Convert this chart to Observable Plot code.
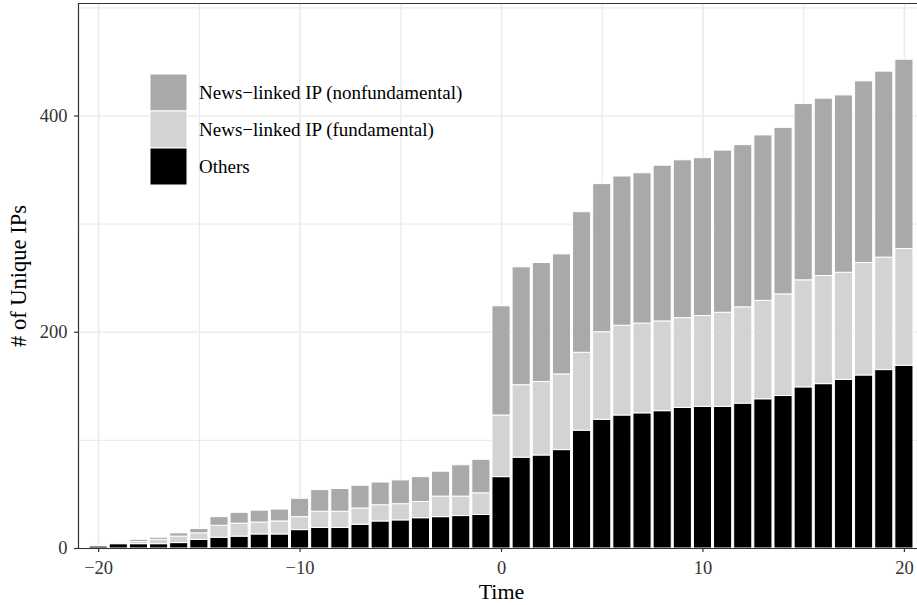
<!DOCTYPE html>
<html><head><meta charset="utf-8">
<script src="https://cdn.jsdelivr.net/npm/d3@7"></script>
<script src="https://cdn.jsdelivr.net/npm/@observablehq/plot@0.6"></script>
<style>body{margin:0;background:#fff} #chart{width:917px;height:605px}</style>
</head><body><div id="chart"></div>
<script>
const times = [-20,-19,-18,-17,-16,-15,-14,-13,-12,-11,-10,-9,-8,-7,-6,-5,-4,-3,-2,-1,0,1,2,3,4,5,6,7,8,9,10,11,12,13,14,15,16,17,18,19,20];
const others = [2,4,4,4,5,8,10,11,13,13,17,19,19,22,25,26,28,29,30,31,66,84,86,91,109,119,123,125,127,130,131,131,134,138,141,149,152,156,160,165,169];
const fundamental = [1,1,2,4,6,6,11,12,11,12,12,15,15,15,15,15,15,19,18,20,57,67,68,70,72,81,83,83,83,83,84,87,89,91,94,99,100,99,104,104,108];
const nonfundamental = [1,1,2,2,3,4,8,10,11,11,17,20,21,21,21,22,23,23,29,31,101,109,110,111,130,137,138,139,144,146,146,150,150,153,154,163,164,164,168,172,175];
const seriesNames = ["Others", "News\u2212linked IP (fundamental)", "News\u2212linked IP (nonfundamental)"];
const seriesColors = ["#000000", "#D3D3D3", "#A9A9A9"];
const legendOrder = ["News\u2212linked IP (nonfundamental)", "News\u2212linked IP (fundamental)", "Others"];
const xTicks = [-20, -10, 0, 10, 20];
const xMinor = [-15, -5, 5, 15];
const yTicks = [0, 200, 400];
const yMinor = [100, 300, 500];

const rows = [];
times.forEach((t, i) => {
  const vals = [others[i], fundamental[i], nonfundamental[i]];
  let acc = 0;
  vals.forEach((v, k) => { rows.push({t, series: seriesNames[k], y1: acc, y2: acc + v}); acc += v; });
});

const font = "'Liberation Serif', 'Times New Roman', serif";
const grid = "#EBEBEB";
const chart = Plot.plot({
  width: 917, height: 605,
  marginLeft: 78, marginRight: 0, marginTop: 3, marginBottom: 57,
  style: {fontFamily: font, fontSize: "18px", color: "#333", background: "white"},
  x: {domain: [-21, 20.65]},
  y: {domain: [0, 504]},
  color: {domain: seriesNames, range: seriesColors},
  marks: [
    Plot.ruleX(xMinor, {stroke: grid, strokeWidth: 1.2}),
    Plot.ruleX(xTicks, {stroke: grid, strokeWidth: 1.6}),
    Plot.ruleY(yMinor, {stroke: grid, strokeWidth: 1.2}),
    Plot.ruleY(yTicks, {stroke: grid, strokeWidth: 1.6}),
    Plot.rect(rows, {x1: d => d.t - 0.45, x2: d => d.t + 0.45, y1: "y1", y2: "y2", fill: "series", stroke: "white", strokeWidth: 1}),
    Plot.ruleX([-21], {stroke: "#333", strokeWidth: 1.2}),
    Plot.ruleY([0, 504], {stroke: "#333", strokeWidth: 1.2}),
    Plot.axisX(xTicks, {tickSize: 4, tickPadding: 8, label: null, fontSize: 18.5, fontFamily: font, stroke: "#333", strokeWidth: 1.2}),
    Plot.axisY(yTicks, {tickSize: 4, tickPadding: 7, label: null, fontSize: 18.5, fontFamily: font, stroke: "#333", strokeWidth: 1.2}),
    Plot.text([{x: 0, label: "Time"}], {x: "x", text: "label", frameAnchor: "bottom", dy: 43, lineAnchor: "middle", textAnchor: "middle", fontSize: 22, fontFamily: font, fill: "#000"}),
    Plot.text(["# of Unique IPs"], {frameAnchor: "left", dx: -60, rotate: -90, lineAnchor: "middle", textAnchor: "middle", fontSize: 22.5, fontFamily: font, fill: "#000"})
  ]
});
document.getElementById("chart").appendChild(chart);

const svg = d3.select(chart);
const lg = svg.append("g").attr("font-family", font).attr("font-size", 19).attr("text-anchor", "start");
legendOrder.forEach((name, i) => {
  const y0 = 74 + i * 37;
  lg.append("rect").attr("x", 150).attr("y", y0).attr("width", 37).attr("height", 37)
    .attr("fill", seriesColors[seriesNames.indexOf(name)]).attr("stroke", "white").attr("stroke-width", 1);
  lg.append("text").attr("x", 199).attr("y", y0 + 18.5 + 6).attr("fill", "#000").attr("text-anchor", "start").text(name);
});
</script>
</body></html>
